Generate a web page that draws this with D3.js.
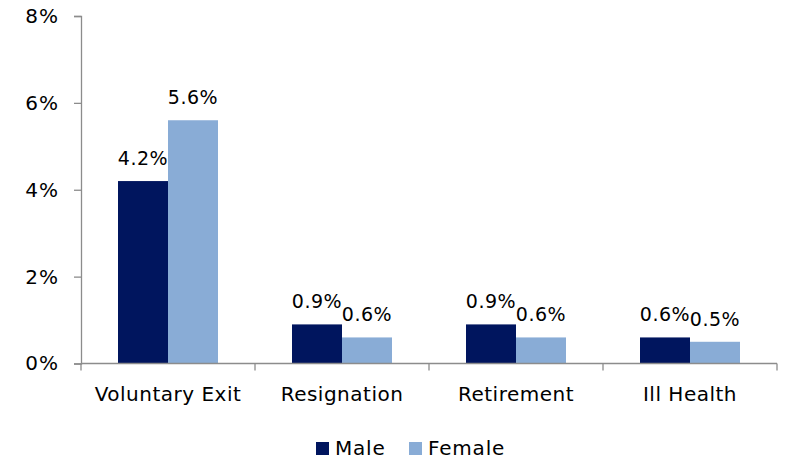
<!DOCTYPE html>
<html><head><meta charset="utf-8">
<script src="https://cdn.jsdelivr.net/npm/d3@7"></script>
<style>body{margin:0;background:#fff}svg{display:block}text{font-family:"DejaVu Sans",sans-serif;fill:#000}</style>
</head><body>
<svg id="c" width="785" height="460"></svg>
<script>
const categories = ["Voluntary Exit", "Resignation", "Retirement", "Ill Health"];
const seriesNames = ["Male", "Female"];
const maleValues = [4.2, 0.9, 0.9, 0.6];
const femaleValues = [5.6, 0.6, 0.6, 0.5];
const yTicks = [0, 2, 4, 6, 8];
const colors = ["#00155E", "#89ACD6"];

(function () {
const svg = d3.select("#c");
const mLeft = 81, mRight = 777, mTop = 16, mBottom = 363.5;
const x = d3.scaleBand().domain(categories).range([mLeft, mRight]).paddingInner(0).paddingOuter(0);
const y = d3.scaleLinear().domain([0, 8]).range([mBottom, mTop]);

const values = [maleValues, femaleValues];
const data = [];
categories.forEach((c, i) => seriesNames.forEach((s, j) => data.push({c, s, v: values[j][i], j})));

const inner = d3.scaleBand().domain(seriesNames).range([x.bandwidth()/2 - 50, x.bandwidth()/2 + 50]);
svg.append("g").selectAll("rect").data(data).join("rect")
  .attr("x", d => x(d.c) + inner(d.s))
  .attr("width", inner.bandwidth())
  .attr("y", d => y(d.v))
  .attr("height", d => y(0) - y(d.v))
  .attr("fill", d => colors[d.j]);

const ya = svg.append("g").attr("transform", `translate(${mLeft},0)`)
  .call(d3.axisLeft(y).tickValues(yTicks).tickFormat(d => d + "%").tickSize(7).tickPadding(15));
ya.select(".domain").attr("stroke", "#8c8c8c").attr("stroke-width", 1.3);
ya.selectAll(".tick line").attr("stroke", "#8c8c8c").attr("stroke-width", 1.3);
ya.selectAll(".tick text").attr("font-size", 20).attr("letter-spacing", 1).attr("font-family", "DejaVu Sans").attr("fill", "#000");

const xa = svg.append("g").attr("transform", `translate(0,${mBottom})`);
xa.append("line").attr("x1", mLeft).attr("x2", mRight).attr("stroke", "#8c8c8c").attr("stroke-width", 1.3);
const bounds = categories.map(c => x(c)).concat([mRight]);
xa.selectAll("line.t").data(bounds).join("line").attr("class", "t")
  .attr("x1", d => d).attr("x2", d => d).attr("y1", 0).attr("y2", 7)
  .attr("stroke", "#8c8c8c").attr("stroke-width", 1.3);
xa.selectAll("text").data(categories).join("text")
  .attr("x", d => x(d) + x.bandwidth()/2).attr("y", 37)
  .attr("text-anchor", "middle").attr("font-size", 20).attr("letter-spacing", 0.5).text(d => d);

svg.append("g").selectAll("text").data(data).join("text")
  .attr("x", d => x(d.c) + inner(d.s) + inner.bandwidth()/2)
  .attr("y", d => y(d.v) - 16)
  .attr("text-anchor", "middle").attr("font-size", 19).attr("letter-spacing", 0.5)
  .text(d => d.v.toFixed(1) + "%");

const lg = svg.append("g");
const lx = [316, 409];
seriesNames.forEach((s, i) => {
  lg.append("rect").attr("x", lx[i]).attr("y", 442).attr("width", 13).attr("height", 13).attr("fill", colors[i]);
  lg.append("text").attr("x", lx[i] + 19).attr("y", 455).attr("font-size", 20).attr("letter-spacing", 0.8).text(s);
});
})();
</script>
</body></html>
